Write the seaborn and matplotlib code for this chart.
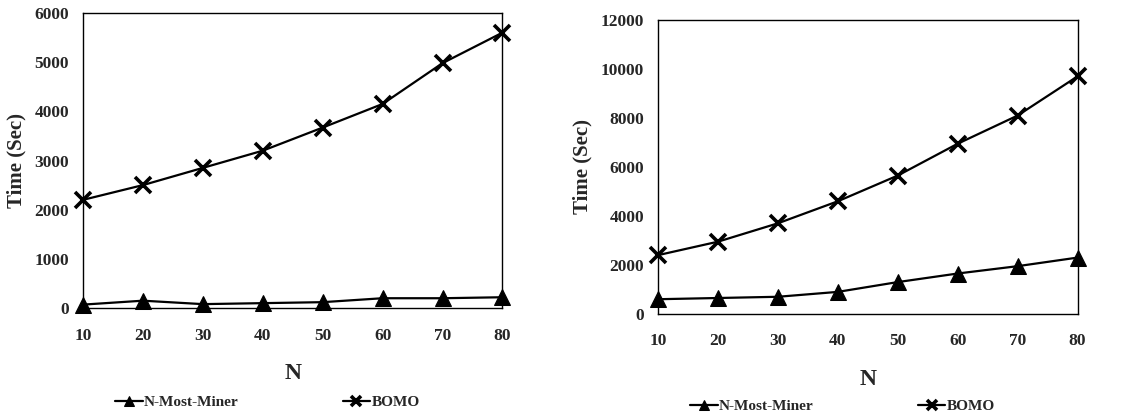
import numpy as np
import pandas as pd
import matplotlib
matplotlib.use("Agg")
import matplotlib.pyplot as plt
import seaborn as sns

n_vals = [10, 20, 30, 40, 50, 60, 70, 80]

left_nmost = [70, 150, 80, 100, 120, 200, 200, 220]
left_bomo = [2200, 2500, 2850, 3200, 3670, 4150, 4980, 5600]

right_nmost = [600, 650, 700, 900, 1300, 1650, 1950, 2300]
right_bomo = [2400, 2950, 3700, 4600, 5650, 6950, 8100, 9700]

methods = ["N-Most-Miner", "BOMO"]

sns.set_style("white")
plt.rcParams['font.family'] = ['Liberation Serif', 'DejaVu Serif']
plt.rcParams['font.weight'] = 'bold'

fig = plt.figure(figsize=(11.43, 4.18), dpi=100)
ax1 = fig.add_axes([0.0726, 0.263, 0.367, 0.706])
ax2 = fig.add_axes([0.5757, 0.249, 0.367, 0.703])


def draw(ax, nmost, bomo, ymax, ystep, legend_y):
    df = pd.DataFrame({"N": n_vals * 2,
                       "Time": nmost + bomo,
                       "Method": [methods[0]] * len(n_vals) + [methods[1]] * len(n_vals)})
    sns.lineplot(data=df[df.Method == "N-Most-Miner"], x="N", y="Time", ax=ax,
                 color="black", marker="^", markersize=12, markeredgecolor="black",
                 linewidth=1.6, label="N-Most-Miner", clip_on=False)
    sns.lineplot(data=df[df.Method == "BOMO"], x="N", y="Time", ax=ax,
                 color="black", marker="x", markersize=12, markeredgewidth=2.6,
                 markeredgecolor="black", linewidth=1.6, label="BOMO", clip_on=False)
    ax.set_xlim(10, 80)
    ax.set_ylim(0, ymax)
    ax.set_xticks(n_vals)
    ax.set_yticks(np.arange(0, ymax + 1, ystep))
    ax.tick_params(length=0, labelsize=12.5, pad=10)
    ax.tick_params(axis='x', pad=14)
    for lab in ax.get_xticklabels() + ax.get_yticklabels():
        lab.set_fontweight('bold')
    for s in ax.spines.values():
        s.set_color("black")
        s.set_linewidth(1)
    ax.set_xlabel("N", fontsize=17, fontweight='bold', labelpad=14)
    ax.set_ylabel("Time (Sec)", fontsize=15, fontweight='bold', labelpad=6)
    ax.legend(loc="upper center", bbox_to_anchor=(0.44, legend_y), ncol=2,
              frameon=False, columnspacing=6.8, handlelength=1.8, handletextpad=0.1,
              markerscale=0.6, prop={'weight': 'bold', 'size': 11})


draw(ax1, left_nmost, left_bomo, 6000, 1000, -0.25)
draw(ax2, right_nmost, right_bomo, 12000, 2000, -0.245)

fig.savefig("out.png", dpi=100)
